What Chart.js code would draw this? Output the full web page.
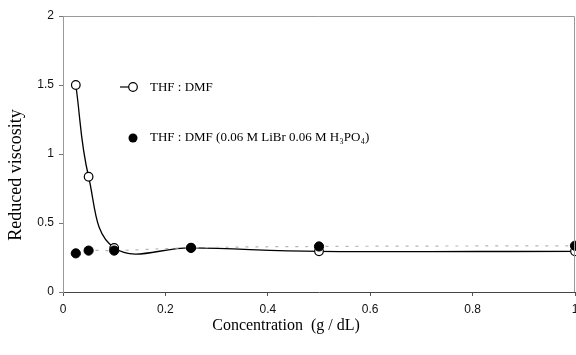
<!DOCTYPE html>
<html>
<head>
<meta charset="utf-8">
<script src="https://cdn.jsdelivr.net/npm/chart.js@4/dist/chart.umd.min.js"></script>
<style>
  html, body { margin: 0; padding: 0; background: #fff; }
  #wrap { width: 576px; height: 355px; }
</style>
</head>
<body>
<div id="wrap"><canvas id="viscChart"></canvas></div>
<script>
// concentration (g/dL)
const concentrations = [0.025, 0.05, 0.1, 0.25, 0.5, 1.0];
// reduced viscosity readings
const thfDmf = [1.50, 0.835, 0.32, 0.32, 0.295, 0.295];
const thfDmfSalt = [0.28, 0.30, 0.30, 0.32, 0.33, 0.335];

const xTicks = [0, 0.2, 0.4, 0.6, 0.8, 1];
const yTicks = [0, 0.5, 1, 1.5, 2];

const seriesNames = ["THF : DMF", "THF : DMF (0.06 M LiBr 0.06 M H\u2083PO\u2084)"];
const xTitle = "Concentration  (g / dL)";
const yTitle = "Reduced viscosity";

function toPoints(ys) {
    return concentrations.map((x, i) => ({ x: x, y: ys[i] }));
}

// legend + axis titles drawn by hand, placed like the original
const extrasPlugin = {
    id: "extras",
    afterDraw(chart) {
        const ctx = chart.ctx;
        const area = chart.chartArea;
        ctx.save();

        // frame around plot area (top/right)
        ctx.strokeStyle = "#9a9a9a";
        ctx.lineWidth = 1;
        ctx.beginPath();
        ctx.moveTo(area.left, area.top + 0.5);
        ctx.lineTo(area.right - 0.5, area.top + 0.5);
        ctx.lineTo(area.right - 0.5, area.bottom);
        ctx.stroke();

        // legend
        ctx.fillStyle = "#000";
        ctx.font = "13px 'Liberation Serif', serif";
        ctx.textBaseline = "middle";
        ctx.textAlign = "left";

        ctx.strokeStyle = "#000";
        ctx.lineWidth = 1.2;
        ctx.beginPath();
        ctx.moveTo(120, 87);
        ctx.lineTo(129, 87);
        ctx.stroke();
        ctx.beginPath();
        ctx.arc(133, 87, 4.3, 0, Math.PI * 2);
        ctx.fillStyle = "#fff";
        ctx.fill();
        ctx.stroke();
        ctx.fillStyle = "#000";
        ctx.fillText(seriesNames[0], 150, 88);

        ctx.beginPath();
        ctx.arc(133, 138, 4.5, 0, Math.PI * 2);
        ctx.fill();
        ctx.fillText(seriesNames[1], 150, 138);

        // axis titles
        ctx.font = "16px 'Liberation Serif', serif";
        ctx.textAlign = "center";
        ctx.fillText(xTitle, 286, 326);

        ctx.font = "18px 'Liberation Serif', serif";
        ctx.translate(16, 175);
        ctx.rotate(-Math.PI / 2);
        ctx.fillText(yTitle, 0, 0);
        ctx.restore();
    }
};

const ctx = document.getElementById("viscChart").getContext("2d");
new Chart(ctx, {
    type: "scatter",
    data: {
        datasets: [
            {
                label: seriesNames[1],
                data: toPoints(thfDmfSalt),
                showLine: true,
                borderColor: "#b5b5b5",
                borderWidth: 1.2,
                borderDash: [3, 7],
                tension: 0.4,
                pointRadius: 4.6,
                pointBackgroundColor: "#000",
                pointBorderColor: "#000",
                pointBorderWidth: 1
            },
            {
                label: seriesNames[0],
                data: toPoints(thfDmf),
                showLine: true,
                borderColor: "#000",
                borderWidth: 1.3,
                tension: 0.4,
                pointRadius: 4.3,
                pointBackgroundColor: "#fff",
                pointBorderColor: "#000",
                pointBorderWidth: 1.2
            }
        ]
    },
    options: {
        responsive: true,
        maintainAspectRatio: false,
        animation: false,
        clip: false,
        // right edge of the plot sits on the canvas edge, like the original
        layout: { autoPadding: false, padding: { top: 16, right: 1, left: 0, bottom: 0 } },
        plugins: {
            legend: { display: false },
            tooltip: { enabled: false }
        },
        scales: {
            x: {
                type: "linear",
                min: 0,
                max: 1,
                afterBuildTicks: (scale) => { scale.ticks = xTicks.map(v => ({ value: v })); },
                afterFit: (scale) => {
                    scale.height = 63;
                    scale.paddingLeft = 0;
                    scale.paddingRight = 0;
                },
                grid: { drawOnChartArea: false, tickLength: 4, color: "#555" },
                border: { color: "#444", width: 1 },
                ticks: {
                    padding: 6,
                    color: "#111",
                    font: { family: "'Liberation Sans', Arial, sans-serif", size: 12 },
                    callback: (v) => String(v)
                }
            },
            y: {
                type: "linear",
                min: 0,
                max: 2,
                afterBuildTicks: (scale) => { scale.ticks = yTicks.map(v => ({ value: v })); },
                afterFit: (scale) => {
                    scale.width = 63;
                    scale.paddingTop = 0;
                    scale.paddingBottom = 0;
                },
                grid: { drawOnChartArea: false, tickLength: 4, color: "#777" },
                border: { color: "#9a9a9a", width: 1 },
                ticks: {
                    padding: 5,
                    color: "#111",
                    font: { family: "'Liberation Sans', Arial, sans-serif", size: 12 },
                    callback: (v) => String(v)
                }
            }
        }
    },
    plugins: [extrasPlugin]
});
</script>
</body>
</html>
